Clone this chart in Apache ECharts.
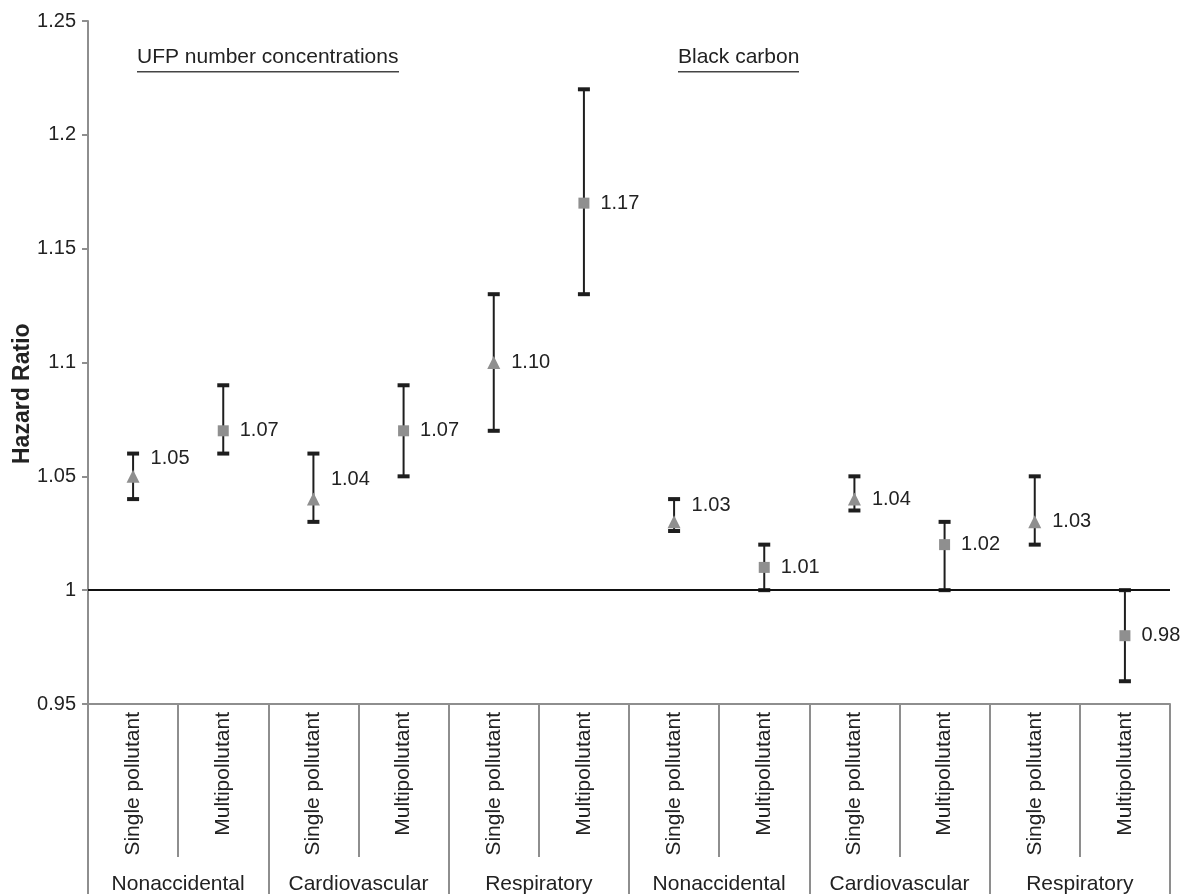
<!DOCTYPE html>
<html>
<head>
<meta charset="utf-8">
<script src="https://cdn.jsdelivr.net/npm/echarts@6/dist/echarts.min.js"></script>
<style>
  html, body { margin: 0; padding: 0; background: #fff; }
  #chart { width: 1199px; height: 895px; }
</style>
</head>
<body>
<div id="chart"></div>
<script>
// categories along the x axis
const categories = [
  'Single pollutant', 'Multipollutant',
  'Single pollutant', 'Multipollutant',
  'Single pollutant', 'Multipollutant',
  'Single pollutant', 'Multipollutant',
  'Single pollutant', 'Multipollutant',
  'Single pollutant', 'Multipollutant'
];
const groups = ['Nonaccidental', 'Cardiovascular', 'Respiratory', 'Nonaccidental', 'Cardiovascular', 'Respiratory'];

// hazard ratios and 95% CI
const hazardRatio = [1.05, 1.07, 1.04, 1.07, 1.10, 1.17, 1.03, 1.01, 1.04, 1.02, 1.03, 0.98];
const lowerCI = [1.04, 1.06, 1.03, 1.05, 1.07, 1.13, 1.026, 1.00, 1.035, 1.00, 1.02, 0.96];
const upperCI = [1.06, 1.09, 1.06, 1.09, 1.13, 1.22, 1.04, 1.02, 1.05, 1.03, 1.05, 1.00];

const yTicks = [0.95, 1.25, 0.05]; // min, max, step
const refValue = 1;

const FONT = '"Liberation Sans", Arial, Helvetica, sans-serif';
const INK = '#222';
const AXIS_GRAY = '#8e8e8e';

// a few labels were nudged up in the original to avoid the error bar
const labelLift = { 0: -18, 2: -20, 6: -16 };

const chart = echarts.init(document.getElementById('chart'));

const pointData = hazardRatio.map((v, i) => {
  const single = categories[i].indexOf('Single') === 0;
  return {
    value: [i, v],
    symbol: single ? 'triangle' : 'rect',
    symbolSize: single ? 13 : 11,
    label: { offset: [0, labelLift[i] || 0] }
  };
});

const barData = categories.map((c, i) => [i, lowerCI[i], upperCI[i]]);

const option = {
  animation: false,
  backgroundColor: '#fff',
  textStyle: { fontFamily: FONT },
  grid: { left: 88, right: 29, top: 21, bottom: 190, containLabel: false },
  xAxis: [
    {
      type: 'category',
      data: categories,
      position: 'bottom',
      boundaryGap: true,
      axisLine: { lineStyle: { color: AXIS_GRAY, width: 2 } },
      axisTick: { show: true, interval: 0, length: 153, lineStyle: { color: AXIS_GRAY, width: 2 } },
      axisLabel: { interval: 0, rotate: 90, margin: 8, color: INK, fontSize: 21, fontFamily: FONT },
      splitLine: { show: false }
    },
    {
      type: 'category',
      data: groups,
      position: 'bottom',
      boundaryGap: true,
      axisLine: { show: false },
      axisTick: { show: true, interval: 0, length: 190, lineStyle: { color: AXIS_GRAY, width: 2 } },
      axisLabel: { interval: 0, margin: 170, color: INK, fontSize: 21, fontFamily: FONT },
      splitLine: { show: false }
    }
  ],
  yAxis: {
    type: 'value',
    min: yTicks[0],
    max: yTicks[1],
    interval: yTicks[2],
    axisLine: { show: true, lineStyle: { color: AXIS_GRAY, width: 2 } },
    axisTick: { show: true, length: 6, lineStyle: { color: AXIS_GRAY, width: 2 } },
    axisLabel: {
      color: INK, fontSize: 20, fontFamily: FONT, margin: 12,
      formatter: v => String(+v.toFixed(2))
    },
    splitLine: { show: false }
  },
  graphic: [
    {
      type: 'text', left: 137, top: 47,
      style: { text: 'UFP number concentrations', fill: INK, font: '21px ' + FONT }
    },
    {
      type: 'rect', left: 137, top: 71, shape: { width: 262, height: 1.5 },
      style: { fill: '#444' }
    },
    {
      type: 'text', left: 678, top: 47,
      style: { text: 'Black carbon', fill: INK, font: '21px ' + FONT }
    },
    {
      type: 'rect', left: 678, top: 71, shape: { width: 121, height: 1.5 },
      style: { fill: '#444' }
    },
    {
      type: 'text', x: 11, y: 464, rotation: Math.PI / 2,
      style: { text: 'Hazard Ratio', fill: INK, font: 'bold 23px ' + FONT }
    }
  ],
  series: [
    {
      type: 'custom',
      xAxisIndex: 0,
      z: 2,
      data: barData,
      renderItem: (params, api) => {
        const x = api.value(0);
        const lo = api.coord([x, api.value(1)]);
        const hi = api.coord([x, api.value(2)]);
        const half = 6;
        const stroke = { stroke: '#1e1e1e', lineWidth: 2 };
        const cap = { stroke: '#1e1e1e', lineWidth: 4 };
        return {
          type: 'group',
          children: [
            { type: 'line', shape: { x1: hi[0], y1: hi[1], x2: lo[0], y2: lo[1] }, style: stroke },
            { type: 'line', shape: { x1: hi[0] - half, y1: hi[1], x2: hi[0] + half, y2: hi[1] }, style: cap },
            { type: 'line', shape: { x1: lo[0] - half, y1: lo[1], x2: lo[0] + half, y2: lo[1] }, style: cap }
          ]
        };
      }
    },
    {
      type: 'scatter',
      xAxisIndex: 0,
      z: 3,
      data: pointData,
      itemStyle: { color: '#8f8f8f', opacity: 1 },
      label: {
        show: true,
        position: 'right',
        distance: 11,
        color: INK,
        fontSize: 20,
        fontFamily: FONT,
        formatter: p => p.value[1].toFixed(2)
      },
      markLine: {
        silent: true,
        symbol: 'none',
        label: { show: false },
        lineStyle: { color: '#111', width: 2, type: 'solid' },
        data: [{ yAxis: refValue }]
      }
    }
  ]
};

chart.setOption(option);
</script>
</body>
</html>
